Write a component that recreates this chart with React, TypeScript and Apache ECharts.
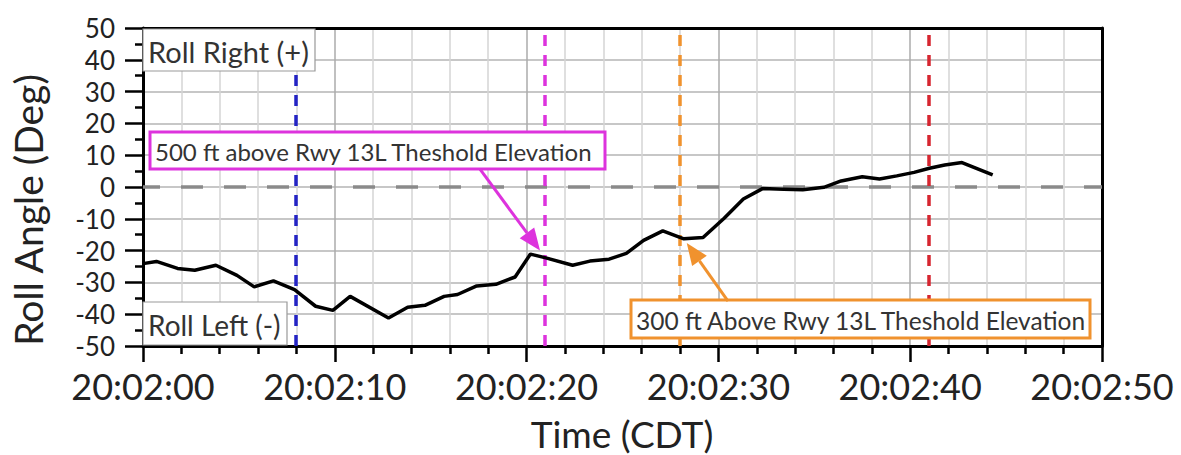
import React, { useEffect, useRef } from "react";
import * as echarts from "echarts";

// Time offset in seconds after 20:02:00 CDT
const timeSec = [0, 0.7, 1.8, 2.7, 3.8, 4.9, 5.8, 6.8, 7.9, 9.0, 9.9, 10.8, 12.8, 13.8, 14.7, 15.7, 16.4, 17.4, 18.4, 19.4, 20.2, 21.0, 22.4, 23.3, 24.3, 25.2, 26.1, 27.1, 28.2, 29.2, 30.3, 31.3, 32.3, 33.4, 34.4, 35.5, 36.4, 37.5, 38.4, 39.3, 40.2, 41.0, 41.8, 42.7, 44.3];
// Roll angle in degrees
const rollDeg = [-24.1, -23.4, -25.6, -26.2, -24.6, -27.8, -31.4, -29.5, -32.3, -37.5, -38.8, -34.4, -41.2, -37.8, -37.2, -34.4, -33.8, -31.1, -30.6, -28.3, -21.1, -22.3, -24.6, -23.3, -22.7, -20.9, -16.8, -13.8, -16.3, -15.9, -9.8, -3.8, -0.5, -0.7, -0.9, -0.1, 1.9, 3.2, 2.5, 3.5, 4.6, 5.9, 6.9, 7.7, 3.8];

// Event marker times (s after 20:02:00) and colours
const eventTimes = [7.95, 20.96, 28.0, 40.95];
const eventColors = ["#2323c4", "#dd33dd", "#f0922e", "#d62630"];

const xTickPrefix = "20:02:";
const FONT = "Lato";

const App = () => {
  const ref = useRef<HTMLDivElement>(null);
  useEffect(() => {
    document.body.style.margin = "0";
    const chart = echarts.init(ref.current!, null, { renderer: "svg" });
    const axisLineStyle = { color: "#000", width: 3 };
    const option: any = {
      animation: false,
      backgroundColor: "#fff",
      grid: { left: 143, right: 79, top: 28, bottom: 109 },
      xAxis: [
        {
          type: "value",
          min: 0,
          max: 50,
          interval: 10,
          position: "bottom",
          axisLine: { show: true, onZero: false, lineStyle: axisLineStyle },
          axisTick: { show: true, length: 16, lineStyle: { color: "#000", width: 2.5 } },
          minorTick: { show: true, splitNumber: 5, length: 8, lineStyle: { color: "#000", width: 2.5 } },
          splitLine: { show: true, lineStyle: { color: "#ababab", width: 1.5 } },
          minorSplitLine: { show: true, lineStyle: { color: "#d4d4d4", width: 1.5 } },
          axisLabel: {
            fontFamily: FONT,
            fontSize: 36,
            color: "#222",
            margin: 22,
            showMinLabel: true,
            showMaxLabel: true,
            hideOverlap: false,
            formatter: (v: number) => xTickPrefix + String(v).padStart(2, "0"),
          },
        },
        {
          type: "value",
          min: 0,
          max: 50,
          position: "top",
          axisLine: { show: true, onZero: false, lineStyle: axisLineStyle },
          axisTick: { show: false },
          axisLabel: { show: false },
          splitLine: { show: false },
        },
      ],
      yAxis: [
        {
          type: "value",
          min: -50,
          max: 50,
          interval: 10,
          position: "left",
          axisLine: { show: true, onZero: false, lineStyle: axisLineStyle },
          axisTick: { show: true, length: 18, lineStyle: { color: "#000", width: 2.5 } },
          minorTick: { show: true, splitNumber: 2, length: 8, lineStyle: { color: "#000", width: 2.5 } },
          splitLine: { show: true, lineStyle: { color: "#b4b4b4", width: 1.5 } },
          axisLabel: {
            fontFamily: FONT,
            fontSize: 26,
            lineHeight: 26,
            color: "#222",
            margin: 28,
            showMinLabel: true,
            showMaxLabel: true,
            hideOverlap: false,
          },
        },
        {
          type: "value",
          min: -50,
          max: 50,
          position: "right",
          axisLine: { show: true, onZero: false, lineStyle: axisLineStyle },
          axisTick: { show: false },
          axisLabel: { show: false },
          splitLine: { show: false },
        },
      ],
      series: [
        {
          type: "line",
          xAxisIndex: 0,
          yAxisIndex: 0,
          data: timeSec.map((t, i) => [t, rollDeg[i]]),
          showSymbol: false,
          lineStyle: { color: "#000", width: 3.5 },
          z: 5,
          markLine: {
            silent: true,
            symbol: ["none", "none"],
            label: { show: false },
            z: 4,
            data: [
              { yAxis: 0, lineStyle: { color: "#8a8a8a", type: [22, 21], dashOffset: 5, width: 3.5 } },
              ...eventTimes.map((t, i) => ({
                xAxis: t,
                lineStyle: { color: eventColors[i], type: [11, 9], width: 3.5 },
              })),
            ],
          },
        },
      ],
    };
    chart.setOption(option);

    const px = (t: number, v: number) => chart.convertToPixel({ seriesIndex: 0 }, [t, v]) as number[];

    const box = (x1: number, y1: number, x2: number, y2: number, text: string, stroke: string, lw: number, fs: number) => [
      {
        type: "rect",
        z: 100,
        shape: { x: x1, y: y1, width: x2 - x1, height: y2 - y1 },
        style: { fill: "#fff", stroke, lineWidth: lw },
      },
      {
        type: "text",
        z: 101,
        x: x1 + 5,
        y: (y1 + y2) / 2 + 1,
        style: { text, fontFamily: FONT, fontSize: fs, fill: "#333", textVerticalAlign: "middle", textAlign: "left" },
      },
    ];

    const arrow = (tail: number[], tip: number[], color: string) => {
      const dx = tip[0] - tail[0];
      const dy = tip[1] - tail[1];
      const len = Math.hypot(dx, dy);
      const ux = dx / len;
      const uy = dy / len;
      const hl = 22;
      const hw = 9;
      const bx = tip[0] - ux * hl;
      const by = tip[1] - uy * hl;
      return [
        { type: "line", z: 102, shape: { x1: tail[0], y1: tail[1], x2: bx, y2: by }, style: { stroke: color, lineWidth: 3 } },
        {
          type: "polygon",
          z: 102,
          shape: { points: [[tip[0], tip[1]], [bx - uy * hw, by + ux * hw], [bx + uy * hw, by - ux * hw]] },
          style: { fill: color },
        },
      ];
    };

    const tl = px(0, 50);
    const bl = px(0, -50);
    const mTail = px(17.57, 5.6);
    const mTip = px(20.7, -20.0);
    const oTail = px(30.5, -35.9);
    const oTip = px(28.35, -17.6);

    const graphic = [
      ...box(tl[0], tl[1] + 1, tl[0] + 172, tl[1] + 43, "Roll Right (+)", "#999", 1.2, 29),
      ...box(bl[0], bl[1] - 44, bl[0] + 144, bl[1] - 1, "Roll Left (-)", "#999", 1.2, 28),
      ...box(150, 132, 605, 169, "500 ft above Rwy 13L Theshold Elevation", eventColors[1], 3, 24),
      ...box(631, 300, 1090, 338, "300 ft Above Rwy 13L Theshold Elevation", eventColors[2], 3, 24.5),
      ...arrow(mTail, mTip, eventColors[1]),
      ...arrow(oTail, oTip, eventColors[2]),
      {
        type: "text",
        z: 50,
        x: 28,
        y: 210,
        rotation: Math.PI / 2,
        style: { text: "Roll Angle (Deg)", fontFamily: FONT, fontSize: 39, fill: "#222", textAlign: "center", textVerticalAlign: "middle" },
      },
      {
        type: "text",
        z: 50,
        x: 622,
        y: 433,
        style: { text: "Time (CDT)", fontFamily: FONT, fontSize: 37, fill: "#222", textAlign: "center", textVerticalAlign: "middle" },
      },
    ];
    chart.setOption({ graphic });

    return () => chart.dispose();
  }, []);
  return <div ref={ref} style={{ width: 1181, height: 455 }} />;
};

export default App;
